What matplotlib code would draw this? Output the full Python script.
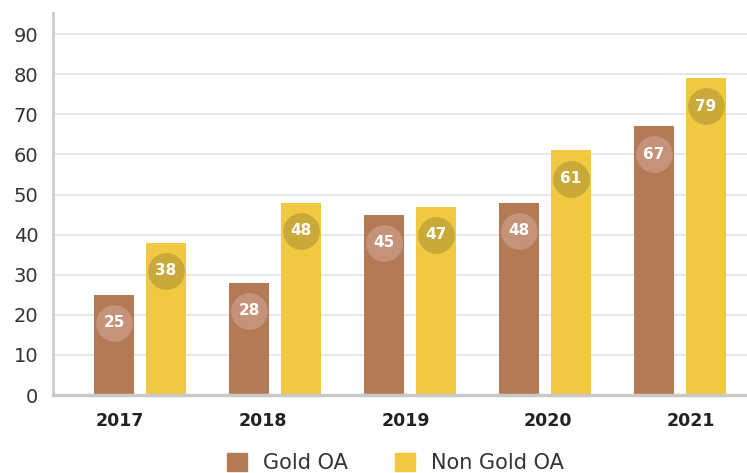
import numpy as np
import matplotlib
matplotlib.use('Agg')
from matplotlib import pyplot as plt
from matplotlib.patches import Patch

years = ['2017', '2018', '2019', '2020', '2021']
gold_oa = [25, 28, 45, 48, 67]
non_gold_oa = [38, 48, 47, 61, 79]

plt.rcParams['font.family'] = ['DejaVu Sans']

fig = plt.figure(figsize=(7.47, 4.73), dpi=100)
ax = fig.add_axes([53 / 747, 1 - 395 / 473, 1 - 53 / 747, (395 - 13) / 473])

x = np.arange(len(years))
w = 0.296
off = 0.1926
c_gold = '#b47955'
c_non = '#f0c940'
ax.bar(x - off, gold_oa, w, color=c_gold, zorder=2)
ax.bar(x + off, non_gold_oa, w, color=c_non, zorder=2)

# value badges inside the bars
for xi, v in zip(x, gold_oa):
    ax.scatter(xi - off, v - 7, s=700, color='#c5937a', zorder=3, linewidths=0)
    ax.text(xi - off, v - 7, str(v), color='white', fontsize=11, fontweight='bold',
            ha='center', va='center', zorder=4)
for xi, v in zip(x, non_gold_oa):
    ax.scatter(xi + off, v - 7, s=700, color='#c8a93a', zorder=3, linewidths=0)
    ax.text(xi + off, v - 7, str(v), color='white', fontsize=11, fontweight='bold',
            ha='center', va='center', zorder=4)

ax.set_xlim(-0.644, 4.496)
ax.set_ylim(0, 95.3)
ax.set_yticks(range(0, 100, 10))
# year labels in the original sit slightly off the group centres
ax.set_xticks(x * 1.057 - 0.148)
ax.set_xticklabels(years, fontsize=12.5, fontweight='bold', color='#222222')
ax.tick_params(axis='y', length=0, pad=10.5, labelsize=14, labelcolor='#333333')
ax.tick_params(axis='x', length=0, pad=12)
ax.yaxis.grid(True, color='#e3e3e3', lw=1.2, zorder=0)
ax.set_axisbelow(True)
for s in ['top', 'right']:
    ax.spines[s].set_visible(False)
ax.spines['left'].set_color('#cccccc')
ax.spines['left'].set_linewidth(2)
ax.spines['bottom'].set_color('#c8c8c8')
ax.spines['bottom'].set_linewidth(2.5)

# legend
handles = [Patch(color=c_gold, label='Gold OA'), Patch(color=c_non, label='Non Gold OA')]
fig.legend(handles=handles, loc='center', bbox_to_anchor=(0.530, 1 - 463 / 473), ncol=2,
           frameon=False, fontsize=15, handlelength=0.96, handleheight=0.96,
           columnspacing=2.26, handletextpad=0.77, labelcolor='#333333',
           borderpad=0, borderaxespad=0)

fig.savefig('out.png', dpi=100)
